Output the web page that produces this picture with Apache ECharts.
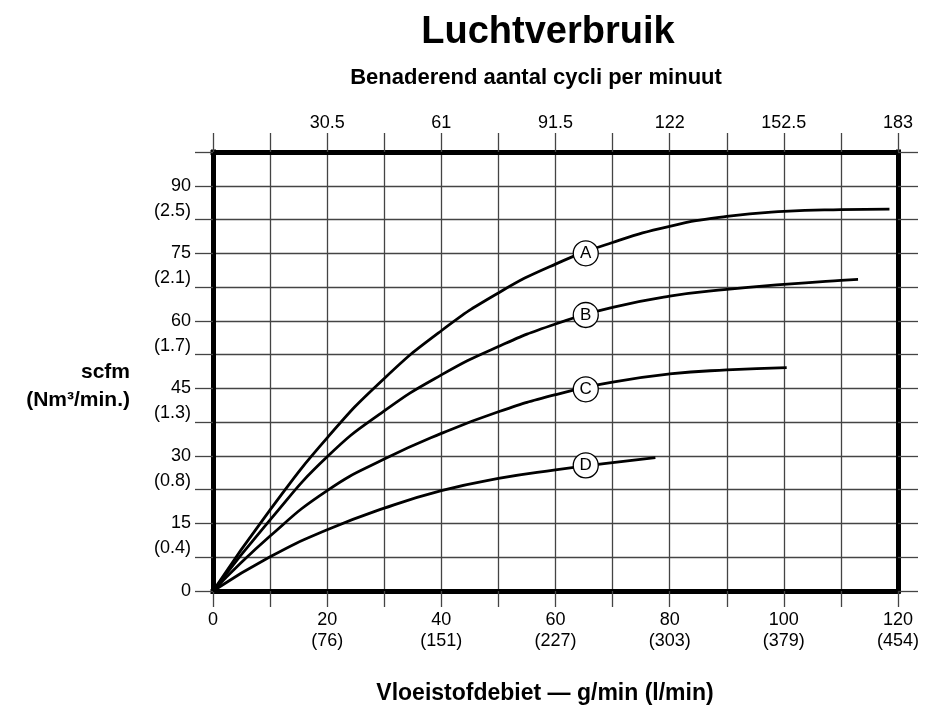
<!DOCTYPE html>
<html>
<head>
<meta charset="utf-8">
<script src="https://cdn.jsdelivr.net/npm/echarts@6/dist/echarts.min.js"></script>
<style>
  html, body { margin: 0; padding: 0; background: #fff; }
  #chart { width: 934px; height: 707px; }
</style>
</head>
<body>
<div id="chart"></div>
<script>
// g/min on the x axis, scfm on the y axis
const xA = [0, 10, 20, 30, 40, 50, 60, 70, 80, 90, 100, 110, 118.5]
const yA = [0, 18, 34, 47.2, 57.8, 66.2, 72.6, 77.4, 81, 83.2, 84.3, 84.7, 84.8]
const xB = [0, 10, 20, 30, 40, 50, 60, 70, 80, 90, 100, 110, 113]
const yB = [0, 15.8, 29.8, 40, 48, 54.3, 59.3, 63, 65.5, 67, 68.1, 69, 69.2]
const xC = [0, 10, 20, 30, 40, 50, 60, 70, 80, 90, 100.5]
const yC = [0, 12.2, 22.3, 29.3, 35, 39.8, 43.6, 46.4, 48.2, 49.1, 49.6]
const xD = [0, 10, 20, 30, 40, 50, 60, 70, 77.5]
const yD = [0, 7.6, 13.6, 18.4, 22.3, 25, 26.9, 28.5, 29.6]

const curveNames = ['A', 'B', 'C', 'D']
const markerX = [65.3, 65.3, 65.3, 65.3]
const markerY = [75, 61.3, 44.8, 27.9]

// tick labels
const bottomTicks = [0, 20, 40, 60, 80, 100, 120]
const bottomLabels = ['0', '20\n(76)', '40\n(151)', '60\n(227)', '80\n(303)', '100\n(379)', '120\n(454)']
const topTicks = [20, 40, 60, 80, 100, 120]
const topLabels = ['30.5', '61', '91.5', '122', '152.5', '183']
const leftTicks = [0, 15, 30, 45, 60, 75, 90]
const leftLabels = ['0', '15', '30', '45', '60', '75', '90']
const nmTicks = [7.5, 22.5, 37.5, 52.5, 67.5, 82.5]
const nmLabels = ['(0.4)', '(0.8)', '(1.3)', '(1.7)', '(2.1)', '(2.5)']

const FONT = '"Liberation Sans", Arial, Helvetica, sans-serif'
const GRID = '#444'

const pick = (ticks, labels) => (v) => {
  const i = ticks.findIndex(t => Math.abs(t - v) < 1e-6)
  return i < 0 ? '' : labels[i]
}
const zip = (xs, ys) => xs.map((x, i) => [x, ys[i]])

const boxLine = { show: true, onZero: false, lineStyle: { color: '#000', width: 5, cap: 'square' } }
const tick = (len) => ({ show: true, inside: false, length: len, lineStyle: { color: GRID, width: 1.3 } })
const grid = { show: true, lineStyle: { color: GRID, width: 1.3 } }
const lbl = { color: '#000', fontSize: 18, fontFamily: FONT }

const chart = echarts.init(document.getElementById('chart'))

const curve = (name, xs, ys) => ({
  name,
  type: 'line',
  data: zip(xs, ys),
  smooth: 0.5,
  showSymbol: false,
  lineStyle: { color: '#000', width: 2.8 },
  z: 3,
})

chart.setOption({
  backgroundColor: '#fff',
  animation: false,
  title: [
    { text: 'Luchtverbruik', left: 543, top: 9, textAlign: 'center',
      textStyle: { fontFamily: FONT, fontSize: 38, fontWeight: 'bold', color: '#000' } },
    { text: 'Benaderend aantal cycli per minuut', left: 531, top: 62, textAlign: 'center',
      textStyle: { fontFamily: FONT, fontSize: 22, fontWeight: 'bold', color: '#000' } },
    { text: 'scfm\n(Nm³/min.)', left: 125, top: 353, textAlign: 'right',
      textStyle: { fontFamily: FONT, fontSize: 21, fontWeight: 'bold', color: '#000', lineHeight: 28, align: 'right' } },
    { text: 'Vloeistofdebiet — g/min (l/min)', left: 540, top: 677, textAlign: 'center',
      textStyle: { fontFamily: FONT, fontSize: 23, fontWeight: 'bold', color: '#000' } },
  ],
  grid: { left: 213, right: 36, top: 152, bottom: 116 },
  xAxis: [
    {
      type: 'value', position: 'bottom', min: 0, max: 120, interval: 10,
      axisLine: boxLine, axisTick: tick(16), splitLine: grid,
      axisLabel: { ...lbl, margin: 19, lineHeight: 21, formatter: pick(bottomTicks, bottomLabels) },
    },
    {
      type: 'value', position: 'top', min: 0, max: 120, interval: 10,
      axisLine: boxLine, axisTick: tick(19), splitLine: { show: false },
      axisLabel: { ...lbl, margin: 20, formatter: pick(topTicks, topLabels) },
    },
  ],
  yAxis: [
    {
      type: 'value', position: 'left', min: 0, max: 97.5, interval: 7.5,
      axisLine: boxLine, axisTick: tick(18), splitLine: grid,
      axisLabel: { ...lbl, margin: 22, formatter: pick(leftTicks, leftLabels) },
    },
    {
      type: 'value', position: 'left', min: 0, max: 97.5, interval: 7.5,
      axisLine: { show: false }, axisTick: { show: false }, splitLine: { show: false },
      axisLabel: { ...lbl, margin: 22, verticalAlign: 'bottom', formatter: pick(nmTicks, nmLabels) },
    },
    {
      type: 'value', position: 'right', min: 0, max: 97.5, interval: 7.5,
      axisLine: boxLine, axisTick: tick(20), splitLine: { show: false },
      axisLabel: { show: false },
    },
  ],
  series: [
    curve('A', xA, yA),
    curve('B', xB, yB),
    curve('C', xC, yC),
    curve('D', xD, yD),
    {
      type: 'scatter',
      data: curveNames.map((n, i) => ({ name: n, value: [markerX[i], markerY[i]] })),
      symbol: 'circle',
      symbolSize: 25,
      itemStyle: { color: '#fff', borderColor: '#000', borderWidth: 1.3, opacity: 1 },
      label: { show: true, position: 'inside', formatter: '{b}', color: '#000', fontSize: 17, fontFamily: FONT },
      z: 5,
    },
  ],
})

window.addEventListener('resize', () => chart.resize())
</script>
</body>
</html>
